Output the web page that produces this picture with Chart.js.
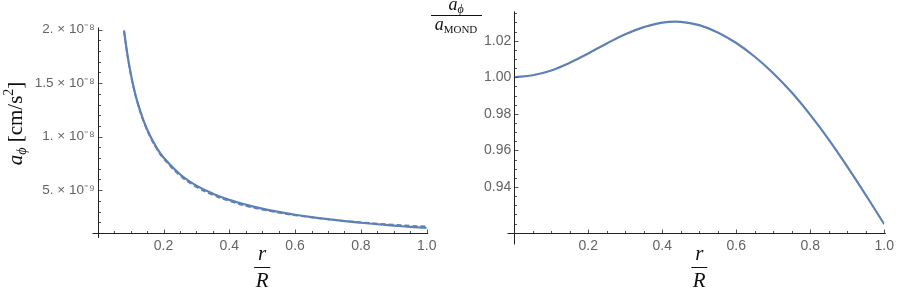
<!DOCTYPE html>
<html>
<head>
<meta charset="utf-8">
<script src="https://cdn.jsdelivr.net/npm/chart.js@4.4.1/dist/chart.umd.min.js"></script>
<style>
  body { margin: 0; background: #fff; }
  #wrap { position: relative; width: 899px; height: 291px; overflow: hidden; }
  canvas { position: absolute; top: 0; }
</style>
</head>
<body>
<div id="wrap">
  <canvas id="leftChart" width="445" height="291" style="left:0"></canvas>
  <canvas id="rightChart" width="474" height="291" style="left:425px"></canvas>
</div>
<script>
// left panel: a_phi against r/R (solid) and the MOND curve (dashed)
var rLeft = [0.08, 0.09, 0.10, 0.11, 0.12, 0.14, 0.16, 0.18, 0.20, 0.25, 0.30, 0.35, 0.40,
             0.45, 0.50, 0.55, 0.60, 0.65, 0.70, 0.75, 0.80, 0.85, 0.90, 0.95, 1.00];
var aPhi = [19.92e-9, 17.72e-9, 15.96e-9, 14.52e-9, 13.32e-9, 11.44e-9, 10.03e-9, 8.93e-9, 8.05e-9,
            6.48e-9, 5.42e-9, 4.67e-9, 4.09e-9, 3.64e-9, 3.27e-9, 2.96e-9, 2.70e-9, 2.47e-9,
            2.28e-9, 2.10e-9, 1.95e-9, 1.81e-9, 1.68e-9, 1.57e-9, 1.46e-9];
var aMond = [19.88e-9, 17.67e-9, 15.90e-9, 14.45e-9, 13.25e-9, 11.36e-9, 9.94e-9, 8.83e-9, 7.95e-9,
             6.36e-9, 5.30e-9, 4.54e-9, 3.98e-9, 3.53e-9, 3.18e-9, 2.89e-9, 2.65e-9, 2.45e-9,
             2.27e-9, 2.12e-9, 1.99e-9, 1.87e-9, 1.77e-9, 1.67e-9, 1.59e-9];

// right panel: a_phi / a_MOND
var rRight = [0, 0.05, 0.10, 0.15, 0.20, 0.25, 0.30, 0.35, 0.40, 0.45, 0.50,
              0.55, 0.60, 0.65, 0.70, 0.75, 0.80, 0.85, 0.90, 0.95, 1.00];
var ratio = [1.0000, 1.0011, 1.0037, 1.0079, 1.0130, 1.0185, 1.0235, 1.0274, 1.0299, 1.0303, 1.0285,
             1.0245, 1.0187, 1.0112, 1.0022, 0.9916, 0.9794, 0.9659, 0.9511, 0.9356, 0.9196];

// ticks
var xTicks = [0.2, 0.4, 0.6, 0.8, 1.0];
var xTickLabels = ['0.2', '0.4', '0.6', '0.8', '1.0'];
var xMinor = [0.05, 0.1, 0.15, 0.25, 0.3, 0.35, 0.45, 0.5, 0.55, 0.65, 0.7, 0.75, 0.85, 0.9, 0.95];
var leftYTicks = [5e-9, 1e-8, 1.5e-8, 2e-8];
var leftYLabels = ['5. \u00d7 10\u207b\u2079', '1. \u00d7 10\u207b\u2078', '1.5 \u00d7 10\u207b\u2078', '2. \u00d7 10\u207b\u2078'];
var leftYMinor = [2e-9, 3e-9, 4e-9, 6e-9, 7e-9, 8e-9, 9e-9, 11e-9, 12e-9, 13e-9, 14e-9,
                  16e-9, 17e-9, 18e-9, 19e-9];
var rightYTicks = [0.94, 0.96, 0.98, 1.00, 1.02];
var rightYLabels = ['0.94', '0.96', '0.98', '1.00', '1.02'];
var rightYMinor = [0.92, 0.925, 0.93, 0.935, 0.945, 0.95, 0.955, 0.965, 0.97, 0.975,
                   0.985, 0.99, 0.995, 1.005, 1.01, 1.015, 1.025, 1.03, 1.035];

var lineColor = '#5e81b5';
var labelColor = '#646464';
var serif = '"Liberation Serif", "DejaVu Serif", serif';
var sans = '"Liberation Sans", Arial, sans-serif';

function pts(xs, ys) {
    return xs.map(function (x, i) { return { x: x, y: ys[i] }; });
}

// draw text pieces one after another: [text, font, dy]
function drawRun(ctx, parts, x, y, align) {
    var total = 0;
    parts.forEach(function (p) { ctx.font = p[1]; total += ctx.measureText(p[0]).width; });
    var cx = align === 'center' ? x - total / 2 : x;
    parts.forEach(function (p) {
        ctx.font = p[1];
        ctx.fillText(p[0], cx, y + (p[2] || 0));
        cx += ctx.measureText(p[0]).width;
    });
    return total;
}

// Mathematica-like axes: lines through the corner, ticks pointing inward
var axesPlugin = {
    id: 'mmaAxes',
    afterDraw: function (chart, args, o) {
        var ctx = chart.ctx, xs = chart.scales.x, ys = chart.scales.y, a = chart.chartArea;
        var x0 = Math.round(a.left) + 0.5, y0 = Math.round(a.bottom) + 0.5;
        ctx.save();
        ctx.strokeStyle = '#555';
        ctx.lineWidth = 1;
        ctx.beginPath();
        o.xMajor.forEach(function (v) { var p = Math.round(xs.getPixelForValue(v)) + 0.5; ctx.moveTo(p, y0); ctx.lineTo(p, y0 - 4); });
        o.xMinor.forEach(function (v) { var p = Math.round(xs.getPixelForValue(v)) + 0.5; ctx.moveTo(p, y0); ctx.lineTo(p, y0 - 2.5); });
        o.yMajor.forEach(function (v) { var p = Math.round(ys.getPixelForValue(v)) + 0.5; ctx.moveTo(x0, p); ctx.lineTo(x0 + 4, p); });
        o.yMinor.forEach(function (v) { var p = Math.round(ys.getPixelForValue(v)) + 0.5; ctx.moveTo(x0, p); ctx.lineTo(x0 + 2.5, p); });
        ctx.stroke();
        ctx.strokeStyle = '#222';
        ctx.beginPath();
        ctx.moveTo(x0 - o.xOver, y0); ctx.lineTo(a.right + 1.5, y0);
        ctx.moveTo(x0, a.top); ctx.lineTo(x0, y0 + o.yOver);
        ctx.stroke();

        // x title: r over R
        ctx.fillStyle = '#111';
        ctx.textBaseline = 'alphabetic';
        var cx = xs.getPixelForValue(0.5);
        drawRun(ctx, [['r', 'italic 21px ' + serif]], cx, 260, 'center');
        drawRun(ctx, [['R', 'italic 21px ' + serif]], cx, 286.5, 'center');
        ctx.beginPath();
        ctx.moveTo(cx - 8, 267.5); ctx.lineTo(cx + 8, 267.5);
        ctx.strokeStyle = '#111';
        ctx.stroke();

        o.yTitle(ctx);
        ctx.restore();
    }
};

function baseOptions(cfg) {
    return {
        responsive: false,
        animation: false,
        layout: { padding: cfg.padding },
        plugins: { legend: { display: false }, tooltip: { enabled: false }, mmaAxes: cfg.axes },
        scales: {
            x: {
                type: 'linear', min: 0, max: 1.0,
                grid: { display: false, drawTicks: false }, border: { display: false },
                afterFit: function (s) { s.height = cfg.xHeight; },
                afterBuildTicks: function (s) { s.ticks = xTicks.map(function (v) { return { value: v }; }); },
                ticks: {
                    autoSkip: false, maxRotation: 0, padding: 5, color: labelColor,
                    font: { family: sans, size: 14 },
                    callback: function (v, i) { return xTickLabels[i]; }
                }
            },
            y: {
                type: 'linear', min: cfg.yMin, max: cfg.yMax,
                grid: { display: false, drawTicks: false }, border: { display: false },
                afterFit: function (s) { s.width = cfg.yWidth; },
                afterBuildTicks: function (s) { s.ticks = cfg.yTicks.map(function (v) { return { value: v }; }); },
                ticks: {
                    autoSkip: false, padding: 3, color: labelColor,
                    font: { family: sans, size: cfg.yFont },
                    callback: function (v, i) { return cfg.yLabels[i]; }
                }
            }
        }
    };
}

new Chart(document.getElementById('leftChart').getContext('2d'), {
    type: 'line',
    data: {
        datasets: [{
            data: pts(rLeft, aMond), borderColor: lineColor, borderWidth: 1.8, borderDash: [5, 3],
            pointRadius: 0, tension: 0.4, fill: false
        }, {
            data: pts(rLeft, aPhi), borderColor: lineColor, borderWidth: 2.2,
            pointRadius: 0, tension: 0.4, fill: false
        }]
    },
    options: baseOptions({
        padding: { top: 27.5, right: 18.3, bottom: 0, left: 0 },
        xHeight: 58.1, yWidth: 97.7, yMin: 1e-9, yMax: 2.02e-8, yFont: 13.5,
        yTicks: leftYTicks, yLabels: leftYLabels,
        axes: {
            xMajor: xTicks, xMinor: xMinor, yMajor: leftYTicks, yMinor: leftYMinor,
            xOver: 6, yOver: 4.5,
            yTitle: function (ctx) {
                ctx.save();
                ctx.translate(21.5, 123.5);
                ctx.rotate(-Math.PI / 2);
                drawRun(ctx, [
                    ['a', 'italic 21px ' + serif, 0],
                    ['\u03d5', 'italic 14px ' + serif, 4],
                    [' [cm/s', '21px ' + serif, 0],
                    ['2', '14px ' + serif, -9],
                    [']', '21px ' + serif, 0]
                ], 0, 0, 'center');
                ctx.restore();
            }
        }
    }),
    plugins: [axesPlugin]
});

new Chart(document.getElementById('rightChart').getContext('2d'), {
    type: 'line',
    data: {
        datasets: [{
            data: pts(rRight, ratio), borderColor: lineColor, borderWidth: 2.2,
            pointRadius: 0, tension: 0.4, fill: false
        }]
    },
    options: baseOptions({
        padding: { top: 5.2, right: 12.3, bottom: 0, left: 0 },
        xHeight: 58.3, yWidth: 89.3, yMin: 0.915, yMax: 1.036, yFont: 14,
        yTicks: rightYTicks, yLabels: rightYLabels,
        axes: {
            xMajor: xTicks, xMinor: xMinor, yMajor: rightYTicks, yMinor: rightYMinor,
            xOver: 7, yOver: 11,
            yTitle: function (ctx) {
                var cx = 31;
                drawRun(ctx, [
                    ['a', 'italic 18px ' + serif, 0],
                    ['\u03d5', 'italic 12px ' + serif, 3]
                ], cx, 10, 'center');
                drawRun(ctx, [
                    ['a', 'italic 18px ' + serif, 0],
                    ['MOND', '11px ' + serif, 3]
                ], cx, 29.5, 'center');
                ctx.beginPath();
                ctx.moveTo(cx - 25, 15.5); ctx.lineTo(cx + 26, 15.5);
                ctx.strokeStyle = '#111';
                ctx.stroke();
            }
        }
    }),
    plugins: [axesPlugin]
});
</script>
</body>
</html>
